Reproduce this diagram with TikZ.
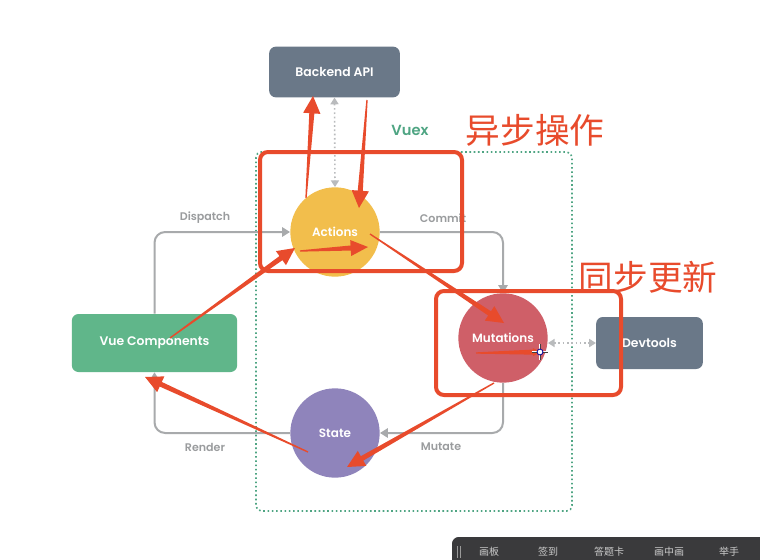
\documentclass[tikz,border=0pt]{standalone}
\usepackage{fontspec}
\setmainfont{Poppins}
\newfontfamily\semib{Poppins SemiBold}
\newfontfamily\cjk{Noto Sans CJK SC}
\usetikzlibrary{arrows.meta,calc}
\definecolor{slate}{HTML}{6A7888}
\definecolor{vgreen}{HTML}{60B68A}
\definecolor{actc}{HTML}{F2BE4C}
\definecolor{mutc}{HTML}{CF5F68}
\definecolor{statec}{HTML}{8F84BB}
\definecolor{lgray}{HTML}{A8AAAC}
\definecolor{tgray}{HTML}{9A9C9E}
\definecolor{vuexg}{HTML}{4FA583}
\definecolor{redc}{HTML}{E84B2C}
\definecolor{barc}{HTML}{3A3A3C}
\newcommand{\redarrow}[4]{%
  \path ($(#2)!#3!(#1)$) coordinate (rh);
  \fill[redc] ($(#1)!0.5pt!90:(#2)$) -- ($(rh)!1.9pt!90:(#2)$) -- ($(rh)!#4!90:(#2)$) -- (#2)
    -- ($(rh)!#4!-90:(#2)$) -- ($(rh)!1.9pt!-90:(#2)$) -- ($(#1)!0.5pt!-90:(#2)$) -- cycle;}
\begin{document}
\begin{tikzpicture}[x=0.75pt,y=-0.75pt,
  boxn/.style={rounded corners=5pt,inner sep=0pt,text=white,font=\semib\fontsize{9.3}{11}\selectfont},
  circn/.style={circle,inner sep=0pt,minimum size=67pt,text=white,font=\semib\fontsize{9}{11}\selectfont},
  gl/.style={draw=lgray,line width=1.5pt,rounded corners=8pt},
  gtip/.style={-{Triangle[length=6pt,width=7pt]}},
  dl/.style={draw=lgray!80,line width=1.2pt,dotted,{Triangle[length=5pt,width=6pt]}-{Triangle[length=5pt,width=6pt]}},
  lab/.style={text=tgray,font=\semib\fontsize{8.3}{10}\selectfont},
  redbox/.style={draw=redc,line width=3pt,rounded corners=6pt},
  cjkl/.style={text=redc,font=\cjk\fontsize{26}{30}\selectfont},
  bart/.style={text=white!80!black,font=\cjk\fontsize{7.5}{9}\selectfont}]
\useasboundingbox[fill=white] (0,0) rectangle (760,560);

% Vuex dotted box
\draw[vuexg,line width=1.2pt,dotted,rounded corners=4pt] (256,152) rectangle (572,511);
\node[text=vuexg,font=\semib\fontsize{11}{13}\selectfont] (vuex) at (410,130) {Vuex};

% nodes
\node[boxn,fill=slate,minimum width=98pt,minimum height=38pt] (api) at (334.5,72) {Backend API};
\node[boxn,fill=vgreen,minimum width=124pt,minimum height=43.5pt] (vue) at (154.5,343) {Vue Components};
\node[boxn,fill=slate,minimum width=80pt,minimum height=39pt] (dev) at (649.5,343) {Devtools};
\node[circn,fill=actc] (act) at (335,232) {Actions};
\node[circn,fill=mutc] (mut) at (503,338) {Mutations};
\node[circn,fill=statec] (state) at (335,433) {State};

% gray connectors
\draw[gl,gtip] (vue.north) |- (act.west);
\draw[gl,gtip] (act.east) -| (mut.north);
\draw[gl,gtip] (mut.south) |- (state.east);
\draw[gl,gtip] (state.west) -| (vue.south);
\draw[dl] (api.south) -- (act.north);
\draw[dl] ($(mut.east)+(0,5)$) -- ($(dev.west)+(0,0)$);

\node[lab] (ldisp) at (205,218) {Dispatch};
\node[lab] (lcomm) at (443,218) {Commit};
\node[lab] (lmut) at (441,447) {Mutate};
\node[lab] (lrend) at (205,447) {Render};

% red annotation boxes and labels
\draw[redbox] (260,152) rectangle (462,271);
\draw[redbox] (436,291) rectangle (621,395);
\node[cjkl] (async) at (535,130) {异步操作};
\node[cjkl] (sync) at (648,277) {同步更新};

% red arrows
\coordinate (r1s) at (306,198); \coordinate (r1e) at (313,96);
\coordinate (r2s) at (367,100); \coordinate (r2e) at (359,208);
\coordinate (r3s) at (170,338); \coordinate (r3e) at (295,248);
\coordinate (r4s) at (300,251); \coordinate (r4e) at (368,247);
\coordinate (r5s) at (370,234); \coordinate (r5e) at (504,323);
\coordinate (r6s) at (476,353); \coordinate (r6e) at (541,352);
\coordinate (r7s) at (494,383); \coordinate (r7e) at (347,467);
\coordinate (r8s) at (308,452); \coordinate (r8e) at (145,377);
\redarrow{r1s}{r1e}{13pt}{6.5pt}
\redarrow{r2s}{r2e}{13pt}{6.5pt}
\redarrow{r3s}{r3e}{13pt}{6.5pt}
\redarrow{r4s}{r4e}{13pt}{6pt}
\redarrow{r5s}{r5e}{13pt}{6.5pt}
\redarrow{r6s}{r6e}{6pt}{3pt}
\redarrow{r7s}{r7e}{13pt}{6.5pt}
\redarrow{r8s}{r8e}{13pt}{6.5pt}

% cursor
\coordinate (cur) at (540,352);
\draw[white,line width=2pt] ($(cur)+(-8,0)$) -- ($(cur)+(8,0)$) ($(cur)+(0,-8)$) -- ($(cur)+(0,8)$);
\draw[black!75,line width=0.7pt] ($(cur)+(-8,0)$) -- ($(cur)+(8,0)$) ($(cur)+(0,-8)$) -- ($(cur)+(0,8)$);
\draw[blue!60!black,line width=0.6pt,fill=white] (cur) circle (2.2pt);

% bottom bar
\fill[barc,rounded corners=5pt] (452,537) rectangle (775,575);
\draw[white!60!black,line width=0.5pt] (457,546) -- (457,558) (460,546) -- (460,558);
\node[bart] (b1) at (489,552) {画板};
\node[bart] (b2) at (548,552) {签到};
\node[bart] (b3) at (609,552) {答题卡};
\node[bart] (b4) at (669,552) {画中画};
\node[bart] (b5) at (729,552) {举手};
\end{tikzpicture}
\end{document}
